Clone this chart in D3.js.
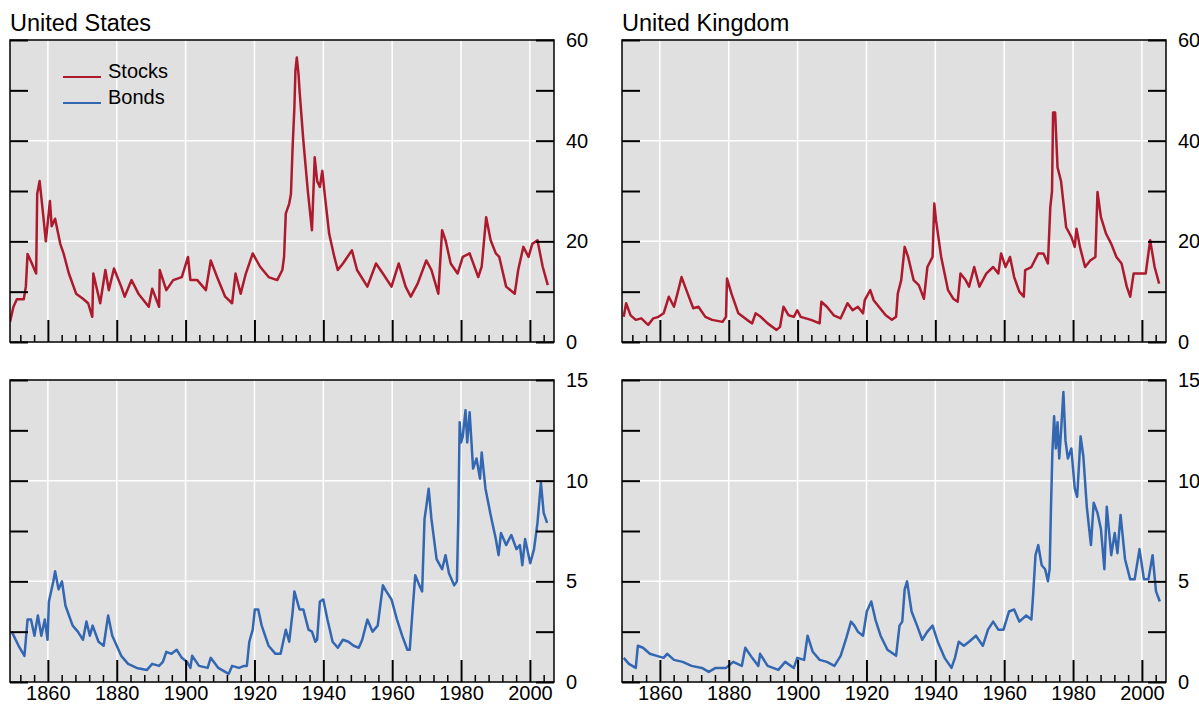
<!DOCTYPE html>
<html>
<head>
<meta charset="utf-8">
<script src="https://cdn.jsdelivr.net/npm/d3@7"></script>
<style>
  body { margin: 0; background: #fff; }
  svg text { font-family: "Liberation Sans", Arial, sans-serif; }
</style>
</head>
<body>
<svg id="drawing_region"></svg>
<script>
// [year, value] pairs
const usStocks = [
  [1849.0,4.0],[1850.0,7.0],[1851.0,8.5],[1853.0,8.5],[1853.6,11],[1854.1,17.5],[1855.1,16],
  [1856.6,13.6],[1856.9,29.4],[1857.6,32],[1858.6,25.5],[1859.4,20],[1860.6,28],[1861.1,23],
  [1862.1,24.5],[1863.6,19.5],[1864.6,17.5],[1866.1,13.6],[1868.2,9.6],[1870.2,8.6],[1871.7,7.7],
  [1872.9,5],[1873.2,13.6],[1875.2,7.7],[1876.7,14.3],[1877.7,10.3],[1879.2,14.6],[1881.3,11],
  [1882.3,9],[1884.3,12.3],[1886.3,9.6],[1889.3,7],[1890.3,10.6],[1892.3,7],[1892.5,14.3],
  [1894.4,10.3],[1896.4,12.3],[1898.9,12.9],[1900.7,16.9],[1901.4,12.3],[1903.4,12.3],
  [1905.9,10.3],[1907.3,16.2],[1909.5,12.3],[1911.5,9],[1913.5,7.7],[1914.5,13.6],[1916.0,9.6],
  [1917.5,13.6],[1919.5,17.6],[1921.6,15],[1924.1,12.9],[1926.6,12.3],[1928.1,14.3],[1928.6,16.9],
  [1929.1,25.5],[1930.1,27.5],[1930.6,29.4],[1931.1,39],[1931.6,46.6],[1931.9,53.9],[1932.3,56.5],
  [1932.8,53.2],[1933.1,49.9],[1934.2,40],[1935.5,30],[1936.7,22.2],[1937.5,36.7],[1938.2,32],
  [1939.0,30.8],[1939.7,34],[1940.5,28.8],[1941.7,21.5],[1943.2,16.9],[1944.2,14.3],[1945.7,15.6],
  [1948.3,18.2],[1949.8,14.3],[1952.8,11],[1955.3,15.6],[1957.3,13.6],[1959.8,11],[1961.9,15.6],
  [1963.9,11],[1965.4,9],[1967.4,11.6],[1969.9,16.2],[1971.4,14.3],[1973.4,9.6],[1974.5,22.2],
  [1975.5,20.2],[1977.0,15.6],[1979.0,13.6],[1980.5,16.9],[1982.5,17.6],[1985.0,12.9],[1986.0,15],
  [1987.3,24.8],[1988.6,20.2],[1990.1,17.6],[1991.1,16.9],[1993.1,11],[1995.6,9.6],[1996.6,14.3],
  [1998.1,18.9],[1999.6,16.9],[2000.7,19.5],[2002.2,20.2],[2003.7,15],[2005.2,11.3]
];
const ukStocks = [
  [1849.5,5],[1850.2,7.7],[1851.5,5.3],[1853.0,4.4],[1854.6,4.7],[1856.6,3.4],[1858.1,4.7],
  [1859.6,5],[1861.1,5.7],[1862.6,9],[1864.1,7],[1865.1,9.6],[1866.3,12.9],[1867.7,10.3],
  [1869.7,6.7],[1871.2,7],[1873.2,5],[1875.2,4.4],[1878.2,4],[1879.2,5],[1879.5,12.6],[1880.8,9.6],
  [1882.8,5.7],[1885.3,4.4],[1886.8,3.7],[1887.8,5.7],[1889.3,5],[1891.3,3.7],[1893.9,2.4],
  [1894.9,3],[1895.9,7],[1897.4,5.3],[1898.9,5],[1899.9,6.3],[1900.9,5],[1903.9,4.4],[1906.4,3.7],
  [1906.9,8],[1908.5,7],[1910.5,5.3],[1912.5,4.7],[1914.5,7.7],[1916.0,6.3],[1917.5,7],[1919.0,5.7],
  [1919.5,8.3],[1921.1,10.3],[1922.1,8.3],[1923.6,7],[1925.6,5.3],[1927.4,4.4],[1928.6,5],
  [1929.1,9.6],[1930.1,12.3],[1931.1,18.9],[1932.1,16.9],[1933.7,12.3],[1935.2,11.3],[1936.7,8.6],
  [1937.7,14.9],[1939.2,16.9],[1939.7,27.5],[1940.2,24.2],[1941.7,16.9],[1943.7,10.3],[1945.2,8.6],
  [1946.5,8],[1947.3,13.6],[1948.8,12.3],[1949.8,11],[1951.3,14.9],[1952.8,11],[1954.8,13.6],
  [1956.8,14.9],[1958.3,13.6],[1959.1,17.6],[1960.4,14.9],[1961.7,16.9],[1962.9,12.9],[1964.4,10],
  [1965.7,9],[1966.1,14.3],[1967.9,14.9],[1969.9,17.6],[1971.4,17.6],[1972.7,15.6],[1973.4,26.8],
  [1973.9,30],[1974.2,45.6],[1974.8,45.6],[1975.5,34.7],[1976.5,32],[1978.0,22.8],[1979.5,20.9],
  [1980.5,18.9],[1981.0,22.5],[1982.0,18.9],[1983.5,14.9],[1985.0,16.2],[1986.5,16.9],[1987.1,29.8],
  [1988.1,24.8],[1989.6,21.5],[1991.1,19.5],[1992.6,16.9],[1994.1,15.6],[1995.6,11],[1996.6,9],
  [1997.6,13.6],[1999.1,13.6],[2001.1,13.6],[2002.4,20.2],[2003.7,14.9],[2005.0,11.6]
];
const usBonds = [
  [1849.5,2.5],[1851.5,1.8],[1853.2,1.3],[1854.1,3.1],[1855.1,3.1],[1856.1,2.3],[1857.1,3.3],
  [1858.1,2.3],[1859.1,3.1],[1859.9,2.1],[1860.3,4.0],[1861.6,5.0],[1862.1,5.5],[1863.1,4.6],
  [1864.1,5.0],[1865.1,3.8],[1867.2,2.8],[1868.7,2.5],[1870.2,2.1],[1871.2,3.0],[1872.2,2.3],
  [1873.0,2.8],[1874.7,2.0],[1876.2,1.8],[1877.5,3.3],[1878.7,2.3],[1881.3,1.3],[1883.3,0.9],
  [1885.8,0.7],[1888.8,0.6],[1890.3,0.9],[1892.3,0.8],[1893.4,1.0],[1894.4,1.5],[1895.9,1.4],
  [1897.4,1.6],[1898.9,1.2],[1900.4,1.0],[1901.4,0.7],[1901.9,1.3],[1903.9,0.8],[1906.4,0.7],
  [1907.3,1.2],[1909.5,0.7],[1912.5,0.4],[1913.5,0.8],[1915.5,0.7],[1917.0,0.8],[1917.8,0.8],
  [1918.5,2.0],[1919.5,2.6],[1920.1,3.6],[1921.1,3.6],[1922.1,2.8],[1924.1,1.8],[1926.1,1.4],
  [1927.6,1.4],[1929.1,2.6],[1930.1,2.0],[1931.1,3.5],[1931.6,4.5],[1933.1,3.6],[1934.2,3.6],
  [1935.7,2.6],[1936.7,2.5],[1937.7,2.0],[1938.2,2.1],[1939.0,4.0],[1940.0,4.1],[1941.2,3.1],
  [1942.7,2.0],[1944.2,1.7],[1945.7,2.1],[1947.3,2.0],[1948.8,1.8],[1950.3,1.7],[1951.3,2.1],
  [1952.8,3.1],[1954.3,2.5],[1955.8,2.8],[1957.3,4.8],[1958.3,4.5],[1959.8,4.1],[1961.4,3.1],
  [1962.9,2.3],[1964.4,1.6],[1965.1,1.6],[1965.9,3.5],[1966.7,5.3],[1967.9,4.8],[1968.7,4.5],
  [1969.4,8.1],[1969.9,8.7],[1970.6,9.6],[1971.4,8.1],[1972.9,6.1],[1974.5,5.6],[1975.5,6.3],
  [1976.5,5.4],[1978.0,4.8],[1978.8,5.0],[1979.2,8.1],[1979.6,12.9],[1980.0,11.9],[1980.5,12.2],
  [1981.3,13.5],[1981.8,11.9],[1982.5,13.4],[1983.5,10.6],[1984.5,11.1],[1985.5,10.1],[1986.0,11.4],
  [1987.1,9.6],[1988.6,8.3],[1990.1,7.1],[1990.9,6.3],[1991.6,7.4],[1993.1,6.8],[1994.6,7.3],
  [1996.1,6.6],[1997.1,6.8],[1997.8,5.8],[1998.6,7.1],[2000.1,5.9],[2001.2,6.6],[2002.2,7.9],
  [2003.2,9.9],[2004.0,8.4],[2005.0,7.9]
];
const ukBonds = [
  [1849.5,1.2],[1851.0,0.9],[1853.0,0.7],[1853.6,1.8],[1855.1,1.7],[1857.1,1.4],[1859.1,1.3],
  [1861.1,1.2],[1862.1,1.4],[1864.1,1.1],[1866.6,1.0],[1869.2,0.8],[1872.2,0.7],[1874.2,0.5],
  [1876.2,0.7],[1879.2,0.7],[1881.3,1.0],[1883.8,0.8],[1884.8,1.7],[1886.8,1.2],[1888.6,0.8],
  [1889.1,1.4],[1891.3,0.8],[1894.4,0.6],[1896.4,1.0],[1898.9,0.7],[1899.9,1.2],[1901.9,1.1],
  [1902.9,2.3],[1904.4,1.5],[1906.4,1.1],[1908.5,1.0],[1910.7,0.8],[1912.5,1.3],[1914.0,2.1],
  [1915.5,3.0],[1916.5,2.8],[1917.5,2.5],[1919.0,2.3],[1920.1,3.5],[1921.4,4.0],[1922.6,3.1],
  [1924.1,2.3],[1926.1,1.6],[1928.6,1.3],[1929.6,2.8],[1930.4,3.0],[1931.1,4.6],[1931.8,5.0],
  [1933.1,3.5],[1934.7,2.8],[1936.2,2.1],[1937.7,2.5],[1939.2,2.8],[1940.7,2.0],[1942.7,1.2],
  [1944.7,0.7],[1945.7,1.2],[1946.8,2.0],[1948.3,1.8],[1949.8,2.0],[1951.8,2.3],[1953.8,1.8],
  [1955.3,2.6],[1956.8,3.0],[1958.3,2.6],[1959.8,2.6],[1961.4,3.5],[1962.9,3.6],[1964.4,3.0],
  [1966.4,3.3],[1967.9,3.1],[1968.4,4.3],[1969.1,6.3],[1969.9,6.8],[1970.9,5.8],[1971.9,5.6],
  [1972.7,5.0],[1973.2,5.6],[1973.6,8.7],[1974.0,11.4],[1974.5,13.2],[1975.0,11.6],[1975.5,12.9],
  [1976.0,11.1],[1976.5,12.4],[1977.2,14.4],[1977.8,12.0],[1978.5,11.1],[1979.5,11.6],[1980.5,9.6],
  [1981.2,9.2],[1982.2,12.2],[1983.0,11.2],[1984.0,8.7],[1985.2,6.8],[1986.0,8.9],[1987.1,8.4],
  [1988.1,7.6],[1989.1,5.6],[1989.8,8.7],[1991.1,6.3],[1992.1,7.4],[1992.9,6.4],[1993.8,8.3],
  [1995.1,6.1],[1996.6,5.1],[1997.9,5.1],[1999.3,6.6],[2000.6,5.1],[2001.9,5.1],[2003.1,6.3],
  [2004.1,4.5],[2005.2,4.0]
];

const yearDomain = [1849, 2007];
const yearLabels = [1860, 1880, 1900, 1920, 1940, 1960, 1980, 2000];
const stockTicks = [0, 10, 20, 30, 40, 50, 60];
const bondTicks = [0, 2.5, 5, 7.5, 10, 12.5, 15];
const legendItems = ["Stocks", "Bonds"];

const RED = "#ad1a2d";
const BLUE = "#3467b2";

const svg = d3.select('#drawing_region')
    .attr('width', 1199)
    .attr('height', 704);

const W = 544, H = 302;

function panel(cfg) {
    const g = svg.append('g')
        .attr('transform', `translate(${cfg.x}, ${cfg.y})`);

    const xscale = d3.scaleLinear().domain(yearDomain).range([0, W]);
    const yscale = d3.scaleLinear().domain([0, d3.max(cfg.yticks)]).range([H, 0]);

    g.append('rect')
        .attr('width', W).attr('height', H)
        .attr('fill', '#e0e0e0');

    // white grid
    g.selectAll('.vgrid').data(yearLabels).enter().append('line')
        .attr('x1', d => xscale(d)).attr('x2', d => xscale(d))
        .attr('y1', 0).attr('y2', H)
        .attr('stroke', '#fff').attr('stroke-width', 1.5);
    g.selectAll('.hgrid').data(cfg.yticks.filter((d, i) => i % 2 == 0 && i > 0 && i < cfg.yticks.length - 1)).enter().append('line')
        .attr('x1', 0).attr('x2', W)
        .attr('y1', d => yscale(d)).attr('y2', d => yscale(d))
        .attr('stroke', '#fff').attr('stroke-width', 1.5);

    // data line
    const clipId = 'clip' + cfg.id;
    g.append('clipPath').attr('id', clipId)
        .append('rect').attr('width', W).attr('height', H);
    const line = d3.line()
        .x(d => xscale(d[0]))
        .y(d => yscale(d[1]));
    g.append('path')
        .datum(cfg.data)
        .attr('clip-path', `url(#${clipId})`)
        .attr('d', line)
        .attr('fill', 'none')
        .attr('stroke', cfg.color)
        .attr('stroke-width', 2.5)
        .attr('stroke-linejoin', 'round');

    // inward ticks: right (with labels) and left
    const yaxisR = d3.axisRight(yscale)
        .tickValues(cfg.yticks)
        .tickSizeInner(-18).tickSizeOuter(0)
        .tickPadding(12)
        .tickFormat((d, i) => i % 2 == 0 ? d3.format('d')(d) : '');
    const ar = g.append('g').attr('transform', `translate(${W}, 0)`).call(yaxisR);

    const yaxisL = d3.axisLeft(yscale)
        .tickValues(cfg.yticks)
        .tickSizeInner(-18).tickSizeOuter(0)
        .tickFormat('');
    const al = g.append('g').call(yaxisL);

    // bottom: major 20-year ticks, minor 4-year ticks
    const xaxisMajor = d3.axisBottom(xscale)
        .tickValues(yearLabels)
        .tickSizeInner(-22).tickSizeOuter(0)
        .tickPadding(4)
        .tickFormat(cfg.xlabels ? d3.format('d') : '');
    const ab = g.append('g').attr('transform', `translate(0, ${H})`).call(xaxisMajor);

    const minorYears = d3.range(1852, 2007, 4).filter(d => d % 20 != 0);
    const xaxisMinor = d3.axisBottom(xscale)
        .tickValues(minorYears)
        .tickSizeInner(-7).tickSizeOuter(0)
        .tickFormat('');
    const am = g.append('g').attr('transform', `translate(0, ${H})`).call(xaxisMinor);

    [ar, al, ab, am].forEach(a => {
        a.select('.domain').remove();
        a.selectAll('line').attr('stroke', '#000').attr('stroke-width', 2);
        a.selectAll('text').attr('font-size', '20px').attr('fill', '#000')
            .style('font-family', '"Liberation Sans", Arial, sans-serif');
    });
    am.selectAll('line').attr('stroke-width', 1.5);

    // frame
    g.append('rect')
        .attr('width', W).attr('height', H)
        .attr('fill', 'none')
        .attr('stroke', '#000').attr('stroke-width', 1.5);

    if (cfg.title) {
        svg.append('text')
            .attr('x', cfg.x)
            .attr('y', cfg.y - 9)
            .attr('font-size', '23.5px')
            .text(cfg.title);
    }
    return g;
}

const gUS = panel({ id: 0, x: 10, y: 40, data: usStocks, color: RED, yticks: stockTicks, title: 'United States', xlabels: false });
panel({ id: 1, x: 622, y: 40, data: ukStocks, color: RED, yticks: stockTicks, title: 'United Kingdom', xlabels: false });
panel({ id: 2, x: 10, y: 380, data: usBonds, color: BLUE, yticks: bondTicks, xlabels: true });
panel({ id: 3, x: 622, y: 380, data: ukBonds, color: BLUE, yticks: bondTicks, xlabels: true });

// legend
const legend = gUS.append('g');
legend.selectAll('line').data(legendItems).enter().append('line')
    .attr('x1', 53).attr('x2', 91)
    .attr('y1', (d, i) => 37 + i * 26).attr('y2', (d, i) => 37 + i * 26)
    .attr('stroke', (d, i) => i == 0 ? RED : BLUE)
    .attr('stroke-width', 2);
legend.selectAll('text').data(legendItems).enter().append('text')
    .attr('x', 98)
    .attr('y', (d, i) => 38 + i * 26)
    .attr('font-size', '20px')
    .text(d => d);
</script>
</body>
</html>
